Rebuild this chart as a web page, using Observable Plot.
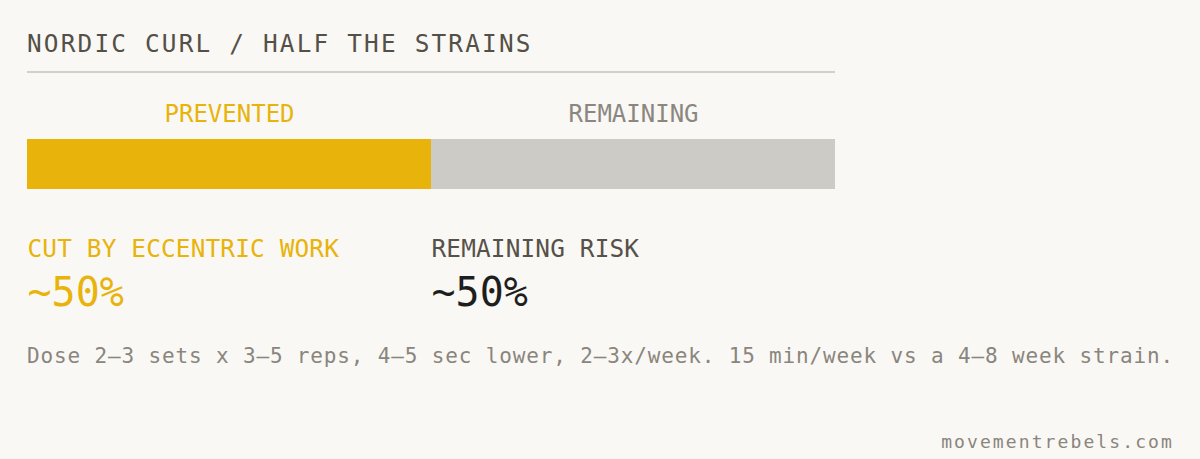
<!DOCTYPE html>
<html>
<head>
<meta charset="utf-8">
<script src="https://cdn.jsdelivr.net/npm/d3@7"></script>
<script src="https://cdn.jsdelivr.net/npm/@observablehq/plot@0.6"></script>
<style>
  html, body { margin: 0; padding: 0; background: #f9f8f4; }
  body { width: 1200px; height: 459px; position: relative; overflow: hidden; font-family: "DejaVu Sans Mono", monospace; }
  .title { position: absolute; left: 27px; top: 32px; font-size: 24.4px; line-height: 1; letter-spacing: 2.17px; color: #545048; white-space: nowrap; }
  .rule { position: absolute; left: 27px; top: 71px; width: 808px; height: 2px; background: #d3d0ca; }
  #chart { position: absolute; left: 0; top: 90px; }
  .note { position: absolute; left: 27px; top: 345.5px; font-size: 21px; line-height: 1; letter-spacing: 0.85px; color: #8a857d; white-space: nowrap; }
  .source { position: absolute; right: 26px; top: 433px; font-size: 18px; line-height: 1; letter-spacing: 2.1px; color: #8a857d; white-space: nowrap; }
</style>
</head>
<body>
<div class="title" id="title"></div>
<div class="rule"></div>
<div id="chart"></div>
<div class="note" id="note"></div>
<div class="source" id="source"></div>
<script>
const titleText = "NORDIC CURL / HALF THE STRAINS";
const segments = ["PREVENTED", "REMAINING"];
const shares = [50, 50];
const statLabels = ["CUT BY ECCENTRIC WORK", "REMAINING RISK"];
const statValues = ["~50%", "~50%"];
const noteText = "Dose 2–3 sets x 3–5 reps, 4–5 sec lower, 2–3x/week. 15 min/week vs a 4–8 week strain.";
const sourceText = "movementrebels.com";

// style palettes (kept apart from the data)
const barInk = ["#e8b30b", "#cdcbc6"];
const headInk = ["#e8b30b", "#8b877f"];
const labelInk = ["#e8b30b", "#565149"];
const valueInk = ["#e8b30b", "#1e1e1e"];

document.getElementById("title").textContent = titleText;
document.getElementById("note").textContent = noteText;
document.getElementById("source").textContent = sourceText;

let acc = 0;
const table = segments.map((s, i) => {
  const x1 = acc; acc += shares[i];
  return {i, segment: s, x1, x2: acc, mid: (x1 + acc) / 2, label: statLabels[i], value: statValues[i]};
});

const svg = Plot.plot({
  width: 1200,
  height: 230,
  marginLeft: 27,
  marginRight: 365,
  marginTop: 49,
  marginBottom: 131,
  x: {domain: [0, d3.sum(shares)], axis: null},
  style: {fontFamily: "DejaVu Sans Mono", background: "transparent", overflow: "visible"},
  marks: [
    Plot.rectX(table, {x1: "x1", x2: "x2", fill: d => barInk[d.i]}),
    Plot.text(table, {x: "mid", text: "segment", frameAnchor: "top", lineAnchor: "bottom", dy: -18, fontSize: 24, fill: d => headInk[d.i]}),
    Plot.text(table, {x: "x1", text: "label", frameAnchor: "bottom", lineAnchor: "bottom", textAnchor: "start", dy: 67.5, fontSize: 24.4, fill: d => labelInk[d.i]}),
    Plot.text(table, {x: "x1", text: "value", frameAnchor: "bottom", lineAnchor: "bottom", textAnchor: "start", dy: 116.5, fontSize: 40, fill: d => valueInk[d.i]})
  ]
});
d3.select(svg).selectAll("g[font-size='24.4'] text").style("letter-spacing", "0.15px");
document.getElementById("chart").appendChild(svg);
</script>
</body>
</html>
